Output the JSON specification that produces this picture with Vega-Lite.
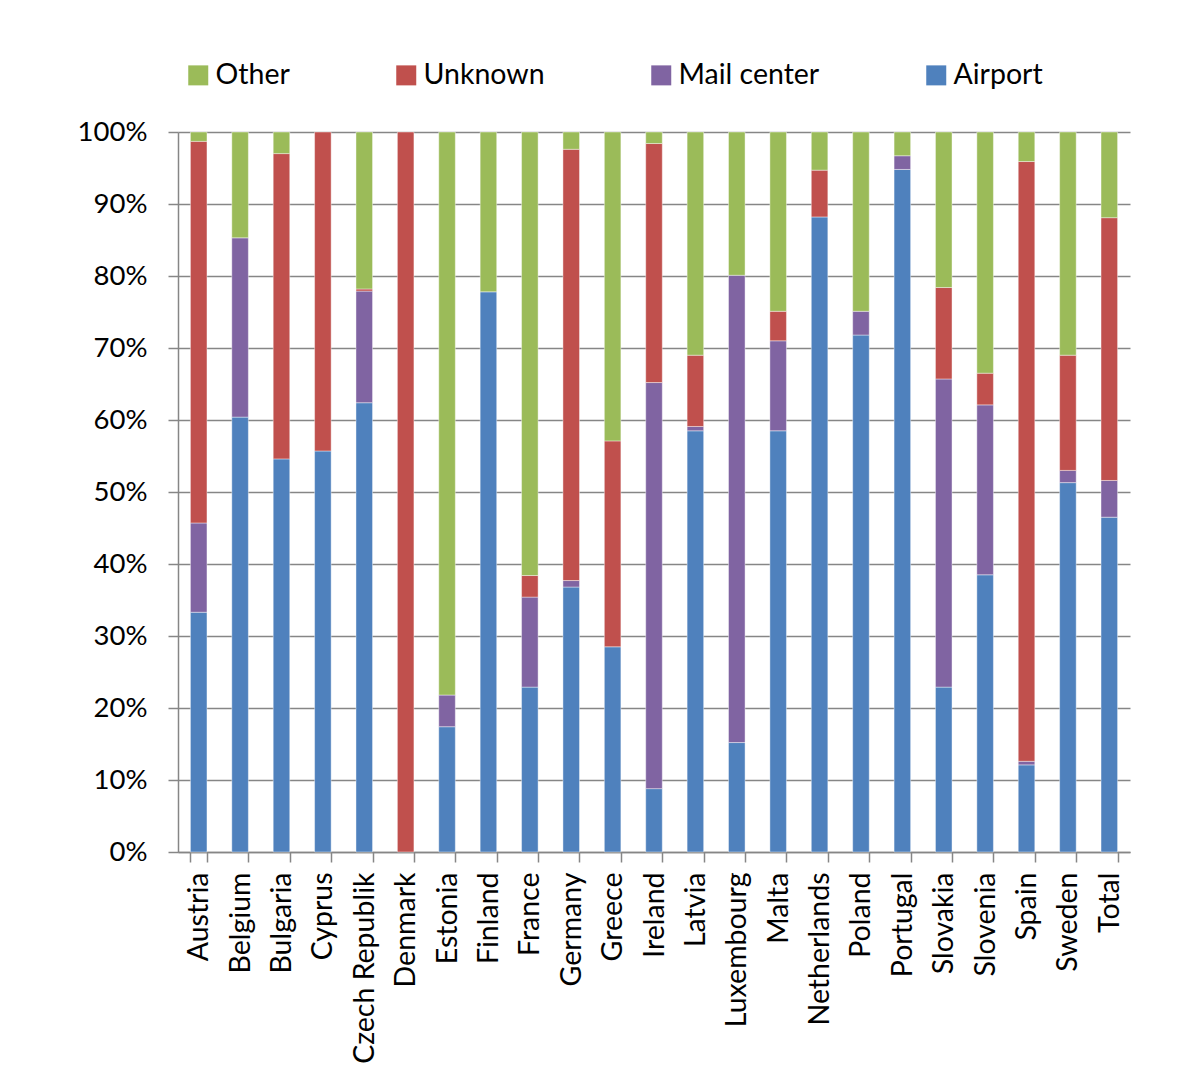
{
  "$schema": "https://vega.github.io/schema/vega-lite/v6.json",
  "width": 952,
  "height": 720,
  "autosize": {"type": "none"},
  "padding": {"left": 178, "top": 132, "right": 57, "bottom": 220},
  "background": "white",
  "data": {
    "values": [
      {"country": "Austria", "Airport": 33.3, "Mail center": 12.4, "Unknown": 53.0, "Other": 1.3},
      {"country": "Belgium", "Airport": 60.4, "Mail center": 24.9, "Unknown": 0, "Other": 14.7},
      {"country": "Bulgaria", "Airport": 54.6, "Mail center": 0, "Unknown": 42.4, "Other": 3.0},
      {"country": "Cyprus", "Airport": 55.7, "Mail center": 0, "Unknown": 44.3, "Other": 0},
      {"country": "Czech Republik", "Airport": 62.4, "Mail center": 15.5, "Unknown": 0.3, "Other": 21.8},
      {"country": "Denmark", "Airport": 0, "Mail center": 0, "Unknown": 100, "Other": 0},
      {"country": "Estonia", "Airport": 17.4, "Mail center": 4.4, "Unknown": 0, "Other": 78.2},
      {"country": "Finland", "Airport": 77.8, "Mail center": 0, "Unknown": 0, "Other": 22.2},
      {"country": "France", "Airport": 22.9, "Mail center": 12.5, "Unknown": 3.0, "Other": 61.6},
      {"country": "Germany", "Airport": 36.8, "Mail center": 0.9, "Unknown": 59.9, "Other": 2.4},
      {"country": "Greece", "Airport": 28.5, "Mail center": 0, "Unknown": 28.6, "Other": 42.9},
      {"country": "Ireland", "Airport": 8.8, "Mail center": 56.4, "Unknown": 33.2, "Other": 1.6},
      {"country": "Latvia", "Airport": 58.5, "Mail center": 0.6, "Unknown": 9.9, "Other": 31.0},
      {"country": "Luxembourg", "Airport": 15.2, "Mail center": 64.9, "Unknown": 0, "Other": 19.9},
      {"country": "Malta", "Airport": 58.5, "Mail center": 12.5, "Unknown": 4.1, "Other": 24.9},
      {"country": "Netherlands", "Airport": 88.2, "Mail center": 0, "Unknown": 6.5, "Other": 5.3},
      {"country": "Poland", "Airport": 71.8, "Mail center": 3.3, "Unknown": 0, "Other": 24.9},
      {"country": "Portugal", "Airport": 94.8, "Mail center": 1.9, "Unknown": 0, "Other": 3.3},
      {"country": "Slovakia", "Airport": 22.9, "Mail center": 42.8, "Unknown": 12.7, "Other": 21.6},
      {"country": "Slovenia", "Airport": 38.5, "Mail center": 23.6, "Unknown": 4.4, "Other": 33.5},
      {"country": "Spain", "Airport": 12.1, "Mail center": 0.5, "Unknown": 83.3, "Other": 4.1},
      {"country": "Sweden", "Airport": 51.3, "Mail center": 1.7, "Unknown": 16.0, "Other": 31.0},
      {"country": "Total", "Airport": 46.5, "Mail center": 5.1, "Unknown": 36.5, "Other": 11.9}
    ]
  },
  "transform": [
    {"fold": ["Airport", "Mail center", "Unknown", "Other"], "as": ["type", "share"]},
    {"filter": "datum.share > 0"},
    {"calculate": "indexof(['Airport', 'Mail center', 'Unknown', 'Other'], datum.type)", "as": "stack_rank"}
  ],
  "mark": {"type": "bar", "stroke": "white", "strokeWidth": 0.6, "strokeOpacity": 0.7},
  "encoding": {
    "x": {
      "field": "country",
      "type": "nominal",
      "sort": null,
      "scale": {"paddingInner": 0.6, "paddingOuter": 0.3},
      "axis": {
        "title": null,
        "labelAngle": -90,
        "tickBand": "extent",
        "tickSize": 10,
        "tickWidth": 1.5,
        "tickColor": "#868686",
        "domainColor": "#868686",
        "domainWidth": 1.5,
        "labelPadding": 10,
        "labelFontSize": 28.5,
        "labelColor": "black",
        "labelLimit": 400,
        "grid": false
      }
    },
    "y": {
      "field": "share",
      "type": "quantitative",
      "stack": "normalize",
      "scale": {"domain": [0, 1]},
      "axis": {
        "title": null,
        "format": ".0%",
        "values": [0, 0.1, 0.2, 0.3, 0.4, 0.5, 0.6, 0.7, 0.8, 0.9, 1],
        "grid": true,
        "gridColor": "#868686",
        "gridWidth": 1.5,
        "tickSize": 10,
        "tickWidth": 1.5,
        "tickColor": "#868686",
        "domainColor": "#868686",
        "domainWidth": 1.5,
        "labelPadding": 21,
        "labelFontSize": 27.5,
        "labelColor": "black"
      }
    },
    "color": {
      "field": "type",
      "type": "nominal",
      "scale": {
        "domain": ["Other", "Unknown", "Mail center", "Airport"],
        "range": ["#9BBB59", "#C0504D", "#8064A2", "#4F81BD"]
      },
      "legend": {
        "orient": "none",
        "legendX": 6,
        "legendY": -71,
        "direction": "horizontal",
        "title": null,
        "symbolType": "square",
        "symbolSize": 400,
        "symbolStrokeWidth": 0,
        "labelFontSize": 28.5,
        "labelColor": "black",
        "labelOffset": 3,
        "columnPadding": 102,
        "padding": 0
      }
    },
    "order": {"field": "stack_rank", "type": "quantitative", "sort": "ascending"}
  },
  "config": {"font": "Lato", "view": {"stroke": null}}
}
